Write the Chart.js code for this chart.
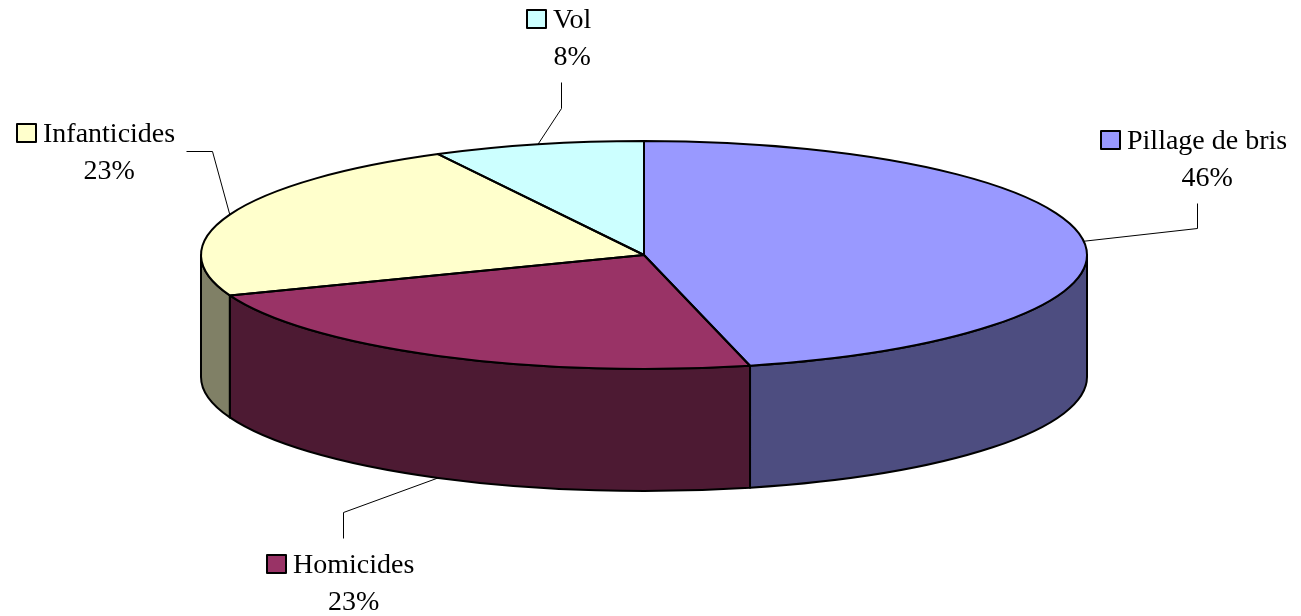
<!DOCTYPE html>
<html>
<head>
<meta charset="utf-8">
<script src="https://cdn.jsdelivr.net/npm/chart.js@4.4.0/dist/chart.umd.min.js"></script>
<style>
  html, body { margin: 0; padding: 0; background: #fff; }
</style>
</head>
<body>
<canvas id="chart" width="1301" height="616"></canvas>
<script>
const categories = ["Pillage de bris", "Homicides", "Infanticides", "Vol"];
const counts = [6, 3, 3, 1];
const topColors = ["#9999FF", "#993366", "#FFFFCC", "#CCFFFF"];
const sideColors = ["#4D4D80", "#4D1A33", "#808066", "#668080"];

// where each label's text goes (left of name, baseline) and the elbow of its leader line
const labelSpots = [
  { tx: 1127, ty: 149, lead: [[1197, 203], [1197, 228]] },
  { tx: 293, ty: 573, lead: [[343, 538], [343, 512]] },
  { tx: 43, ty: 142, lead: [[186, 151], [212, 151]] },
  { tx: 553, ty: 28, lead: [[561, 82], [561, 108]] },
];

const SQUASH = 114 / 443;
const DEPTH = 122;
const FONT = "28px 'Liberation Serif', 'Times New Roman', serif";

const total = counts.reduce((a, b) => a + b, 0);
const percents = counts.map((v) => Math.round((v / total) * 100) + "%");

const pie3d = {
  id: "pie3d",
  beforeDatasetsDraw(chart) {
    const ctx = chart.ctx;
    const arcs = chart.getDatasetMeta(0).data;
    const { x: cx, y: cy, outerRadius: r } = arcs[0];

    // front walls
    arcs.forEach((arc, i) => {
      const a1 = Math.max(arc.startAngle, 0);
      const a2 = Math.min(arc.endAngle, Math.PI);
      if (a2 <= a1) return;
      ctx.beginPath();
      ctx.ellipse(cx, cy, r, r * SQUASH, 0, a1, a2);
      ctx.ellipse(cx, cy + DEPTH, r, r * SQUASH, 0, a2, a1, true);
      ctx.closePath();
      ctx.fillStyle = sideColors[i];
      ctx.fill();
      ctx.lineWidth = 2;
      ctx.strokeStyle = "#000";
      ctx.lineJoin = "round";
      ctx.stroke();
    });

    // squash the top face drawn by chart.js
    ctx.save();
    ctx.translate(cx, cy);
    ctx.scale(1, SQUASH);
    ctx.translate(-cx, -cy);
  },
  afterDatasetsDraw(chart) {
    const ctx = chart.ctx;
    ctx.restore();
    const arcs = chart.getDatasetMeta(0).data;
    const { x: cx, y: cy, outerRadius: r } = arcs[0];

    arcs.forEach((arc) => {
      ctx.beginPath();
      ctx.moveTo(cx, cy);
      ctx.ellipse(cx, cy, r, r * SQUASH, 0, arc.startAngle, arc.endAngle);
      ctx.closePath();
      ctx.lineWidth = 2;
      ctx.strokeStyle = "#000";
      ctx.lineJoin = "round";
      ctx.stroke();
    });

    // labels with leader lines
    ctx.font = FONT;
    ctx.textBaseline = "alphabetic";
    arcs.forEach((arc, i) => {
      const spot = labelSpots[i];
      const mid = (arc.startAngle + arc.endAngle) / 2;
      let ax = cx + r * Math.cos(mid);
      let ay = cy + r * SQUASH * Math.sin(mid);
      if (Math.sin(mid) > 0.5) ay += DEPTH;

      ctx.beginPath();
      ctx.moveTo(spot.lead[0][0] + 0.5, spot.lead[0][1] + 0.5);
      ctx.lineTo(spot.lead[1][0] + 0.5, spot.lead[1][1] + 0.5);
      ctx.lineTo(ax, ay);
      ctx.lineWidth = 1;
      ctx.strokeStyle = "#000";
      ctx.stroke();

      // legend key
      ctx.fillStyle = topColors[i];
      ctx.fillRect(spot.tx - 26, spot.ty - 18, 19, 18);
      ctx.lineWidth = 2;
      ctx.strokeRect(spot.tx - 26, spot.ty - 18, 19, 18);

      ctx.fillStyle = "#000";
      ctx.textAlign = "left";
      ctx.fillText(categories[i], spot.tx, spot.ty);
      const w = ctx.measureText(categories[i]).width;
      ctx.textAlign = "center";
      ctx.fillText(percents[i], spot.tx + w / 2, spot.ty + 37);
    });
  },
};

new Chart(document.getElementById("chart"), {
  type: "pie",
  data: {
    labels: categories,
    datasets: [
      {
        data: counts,
        backgroundColor: topColors,
        borderWidth: 0,
        radius: 443,
        clip: false,
      },
    ],
  },
  options: {
    responsive: false,
    animation: false,
    devicePixelRatio: 1,
    layout: { padding: { left: 0, right: 13, top: 0, bottom: 106 } },
    plugins: {
      legend: { display: false },
      tooltip: { enabled: false },
    },
  },
  plugins: [pie3d],
});
</script>
</body>
</html>
